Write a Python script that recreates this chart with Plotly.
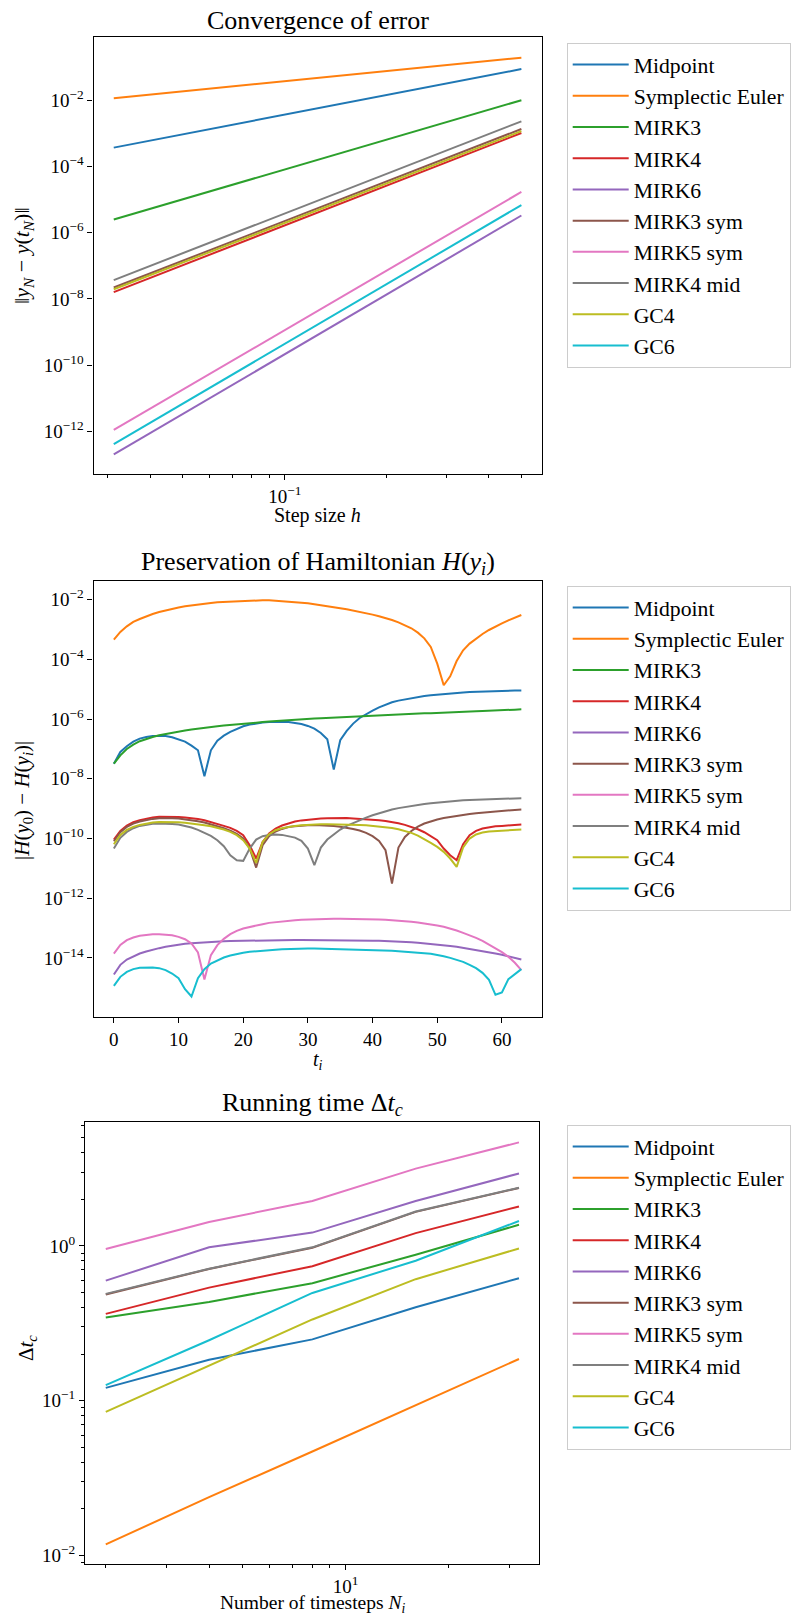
import plotly.graph_objects as go

W, H = 805, 1618
FONT = "Liberation Serif, Times New Roman, serif"

methods = ["Midpoint", "Symplectic Euler", "MIRK3", "MIRK4", "MIRK6",
           "MIRK3 sym", "MIRK5 sym", "MIRK4 mid", "GC4", "GC6"]
colors = ["#1f77b4", "#ff7f0e", "#2ca02c", "#d62728", "#9467bd",
          "#8c564b", "#e377c2", "#7f7f7f", "#bcbd22", "#17becf"]

# ---------------- Plot 1: convergence of error ----------------
step_h = [0.5, 0.25, 0.125, 0.0625, 0.03125]
err_midpoint = [0.087, 0.0225, 5.8e-3, 1.48e-3, 3.7e-4]
err_sympl_euler = [0.193, 0.096, 0.0475, 0.0235, 0.0115]
err_mirk3 = [1.0e-2, 1.27e-3, 1.6e-4, 2.0e-5, 2.5e-6]
err_mirk4 = [1.02e-3, 6.4e-5, 4.0e-6, 2.5e-7, 1.6e-8]
err_mirk6 = [3.3e-6, 5.2e-8, 8.1e-10, 1.27e-11, 2.0e-13]
err_mirk3_sym = [1.35e-3, 8.5e-5, 5.4e-6, 3.4e-7, 2.2e-8]
err_mirk5_sym = [1.7e-5, 2.7e-7, 4.3e-9, 6.8e-11, 1.1e-12]
err_mirk4_mid = [2.3e-3, 1.45e-4, 9.2e-6, 5.8e-7, 3.7e-8]
err_gc4 = [1.17e-3, 7.4e-5, 4.7e-6, 3.0e-7, 1.95e-8]
err_gc6 = [6.8e-6, 1.07e-7, 1.68e-9, 2.6e-11, 4.1e-13]

# ---------------- Plot 2: Hamiltonian preservation ----------------
t_i = list(range(64))
ham_midpoint = [
    3.2e-8, 7.9e-8, 1.23e-7, 1.76e-7, 2.22e-7, 2.52e-7, 2.69e-7, 2.72e-7, 2.69e-7, 2.46e-7,
    2.11e-7, 1.76e-7, 1.29e-7, 9.0e-8, 1.22e-8, 9.0e-8, 1.9e-7, 2.79e-7, 3.71e-7, 4.67e-7,
    5.74e-7, 6.53e-7, 7.15e-7, 7.62e-7, 7.91e-7, 8.0e-7, 8.0e-7, 7.91e-7, 7.43e-7, 6.87e-7,
    5.89e-7, 4.8e-7, 3.43e-7, 2.11e-7, 2.03e-8, 1.95e-7, 4.01e-7, 7.05e-7, 1.09e-6, 1.49e-6,
    1.92e-6, 2.48e-6, 3.05e-6, 3.65e-6, 4.15e-6, 4.6e-6, 5.1e-6, 5.51e-6, 5.95e-6, 6.27e-6,
    6.6e-6, 6.95e-6, 7.22e-6, 7.5e-6, 7.8e-6, 8.0e-6, 8.2e-6, 8.4e-6, 8.53e-6, 8.63e-6,
    8.75e-6, 8.87e-6, 8.98e-6, 9.05e-6]
ham_sympl_euler = [
    4.6e-4, 8.3e-4, 1.28e-3, 1.79e-3, 2.25e-3, 2.77e-3, 3.31e-3, 3.86e-3, 4.4e-3, 5.0e-3,
    5.5e-3, 5.98e-3, 6.46e-3, 6.98e-3, 7.35e-3, 7.73e-3, 8.14e-3, 8.36e-3, 8.8e-3, 9.0e-3,
    9.26e-3, 9.38e-3, 9.5e-3, 9.5e-3, 9.5e-3, 9.26e-3, 9.0e-3, 8.69e-3, 8.36e-3, 7.94e-3,
    7.53e-3, 7.06e-3, 6.62e-3, 6.13e-3, 5.68e-3, 5.19e-3, 4.74e-3, 4.34e-3, 3.96e-3, 3.53e-3,
    3.15e-3, 2.77e-3, 2.43e-3, 2.08e-3, 1.74e-3, 1.42e-3, 1.1e-3, 7.85e-4, 5.07e-4, 2.6e-4,
    7.2e-5, 1.36e-5, 2.71e-5, 8.8e-5, 2.01e-4, 3.37e-4, 5.07e-4, 7.08e-4, 9.64e-4, 1.28e-3,
    1.61e-3, 2.03e-3, 2.49e-3, 3.07e-3]
ham_mirk3 = [
    3.2e-8, 6.1e-8, 1.0e-7, 1.4e-7, 1.81e-7, 2.16e-7, 2.52e-7, 2.87e-7, 3.18e-7, 3.52e-7,
    3.8e-7, 4.11e-7, 4.44e-7, 4.8e-7, 5.18e-7, 5.45e-7, 5.74e-7, 6.04e-7, 6.37e-7, 6.7e-7,
    7.05e-7, 7.33e-7, 7.62e-7, 7.91e-7, 8.22e-7, 8.55e-7, 8.89e-7, 9.23e-7, 9.59e-7, 9.85e-7,
    1.01e-6, 1.04e-6, 1.06e-6, 1.09e-6, 1.12e-6, 1.15e-6, 1.18e-6, 1.21e-6, 1.24e-6, 1.27e-6,
    1.31e-6, 1.34e-6, 1.38e-6, 1.41e-6, 1.45e-6, 1.47e-6, 1.49e-6, 1.52e-6, 1.56e-6, 1.58e-6,
    1.6e-6, 1.65e-6, 1.69e-6, 1.73e-6, 1.76e-6, 1.78e-6, 1.82e-6, 1.87e-6, 1.89e-6, 1.92e-6,
    1.97e-6, 2.02e-6, 2.07e-6, 2.13e-6]
ham_mirk4 = [
    9.2e-11, 1.79e-10, 2.71e-10, 3.51e-10, 4.09e-10, 4.65e-10, 5.02e-10, 5.36e-10, 5.43e-10, 5.43e-10,
    5.28e-10, 5.08e-10, 4.83e-10, 4.53e-10, 4.09e-10, 3.6e-10, 3.08e-10, 2.64e-10, 2.26e-10, 1.79e-10,
    1.29e-10, 5.95e-11, 2.13e-11, 7.69e-11, 1.46e-10, 2.15e-10, 2.71e-10, 3.24e-10, 3.69e-10, 4.04e-10,
    4.31e-10, 4.47e-10, 4.65e-10, 4.78e-10, 4.83e-10, 4.9e-10, 4.83e-10, 4.71e-10, 4.59e-10, 4.42e-10,
    4.25e-10, 4.09e-10, 3.88e-10, 3.6e-10, 3.24e-10, 2.85e-10, 2.44e-10, 2.04e-10, 1.62e-10, 1.22e-10,
    8.75e-11, 4.6e-11, 2.75e-11, 1.87e-11, 6.43e-11, 1.29e-10, 1.79e-10, 2.15e-10, 2.41e-10, 2.55e-10,
    2.64e-10, 2.75e-10, 2.85e-10, 2.93e-10]
ham_mirk6 = [
    2.78e-15, 5.86e-15, 8.83e-15, 1.14e-14, 1.4e-14, 1.64e-14, 1.89e-14, 2.12e-14, 2.35e-14, 2.57e-14,
    2.77e-14, 2.96e-14, 3.11e-14, 3.24e-14, 3.37e-14, 3.45e-14, 3.54e-14, 3.63e-14, 3.67e-14, 3.72e-14,
    3.76e-14, 3.83e-14, 3.87e-14, 3.92e-14, 3.92e-14, 3.94e-14, 3.95e-14, 3.96e-14, 3.97e-14, 3.97e-14,
    3.97e-14, 3.97e-14, 3.97e-14, 3.96e-14, 3.96e-14, 3.95e-14, 3.94e-14, 3.92e-14, 3.87e-14, 3.83e-14,
    3.76e-14, 3.72e-14, 3.67e-14, 3.63e-14, 3.54e-14, 3.45e-14, 3.33e-14, 3.2e-14, 3.08e-14, 2.96e-14,
    2.8e-14, 2.67e-14, 2.5e-14, 2.35e-14, 2.17e-14, 2.01e-14, 1.86e-14, 1.73e-14, 1.56e-14, 1.4e-14,
    1.27e-14, 1.14e-14, 1.0e-14, 8.83e-15]
ham_mirk3_sym = [
    8.1e-11, 1.62e-10, 2.44e-10, 3.16e-10, 3.69e-10, 4.2e-10, 4.53e-10, 4.78e-10, 4.83e-10, 4.78e-10,
    4.65e-10, 4.42e-10, 4.14e-10, 3.78e-10, 3.41e-10, 3.0e-10, 2.57e-10, 2.21e-10, 1.84e-10, 1.43e-10,
    9.95e-11, 4.6e-11, 1.06e-11, 5.95e-11, 1.19e-10, 1.71e-10, 2.09e-10, 2.41e-10, 2.57e-10, 2.71e-10,
    2.78e-10, 2.82e-10, 2.78e-10, 2.71e-10, 2.61e-10, 2.48e-10, 2.32e-10, 2.09e-10, 1.84e-10, 1.54e-10,
    1.19e-10, 8.32e-11, 4.05e-11, 3.1e-12, 4.97e-11, 1.13e-10, 1.79e-10, 2.51e-10, 3.16e-10, 3.78e-10,
    4.31e-10, 4.83e-10, 5.28e-10, 5.71e-10, 6.17e-10, 6.58e-10, 7.01e-10, 7.38e-10, 7.78e-10, 8.18e-10,
    8.51e-10, 8.84e-10, 9.07e-10, 9.31e-10]
ham_mirk5_sym = [
    1.4e-14, 2.73e-14, 3.92e-14, 4.82e-14, 5.48e-14, 5.92e-14, 6.15e-14, 6.23e-14, 6.07e-14, 5.7e-14,
    5.07e-14, 4.23e-14, 3.03e-14, 1.52e-14, 1.89e-15, 1.24e-14, 2.67e-14, 4.35e-14, 6.23e-14, 8.06e-14,
    9.64e-14, 1.1e-13, 1.23e-13, 1.35e-13, 1.49e-13, 1.59e-13, 1.68e-13, 1.76e-13, 1.83e-13, 1.88e-13,
    1.93e-13, 1.96e-13, 1.98e-13, 2.01e-13, 2.03e-13, 2.03e-13, 2.03e-13, 2.03e-13, 2.01e-13, 1.98e-13,
    1.96e-13, 1.93e-13, 1.88e-13, 1.83e-13, 1.76e-13, 1.7e-13, 1.61e-13, 1.53e-13, 1.44e-13, 1.33e-13,
    1.22e-13, 1.1e-13, 9.64e-14, 8.26e-14, 6.9e-14, 5.77e-14, 4.7e-14, 3.72e-14, 2.81e-14, 2.12e-14,
    1.56e-14, 1.09e-14, 6.84e-15, 3.88e-15]
ham_mirk4_mid = [
    4.6e-11, 1.05e-10, 1.66e-10, 2.21e-10, 2.64e-10, 2.93e-10, 3.12e-10, 3.16e-10, 3.16e-10, 3.04e-10,
    2.93e-10, 2.64e-10, 2.32e-10, 1.94e-10, 1.58e-10, 1.22e-10, 8.75e-11, 5.51e-11, 2.75e-11, 1.87e-11,
    1.78e-11, 4.6e-11, 9.2e-11, 1.19e-10, 1.32e-10, 1.36e-10, 1.32e-10, 1.22e-10, 1.07e-10, 8.32e-11,
    4.6e-11, 1.27e-11, 4.97e-11, 9.2e-11, 1.39e-10, 1.99e-10, 2.64e-10, 3.33e-10, 4.09e-10, 5.02e-10,
    6.01e-10, 7.01e-10, 8.18e-10, 9.31e-10, 1.04e-9, 1.14e-9, 1.24e-9, 1.33e-9, 1.44e-9, 1.52e-9,
    1.6e-9, 1.68e-9, 1.75e-9, 1.82e-9, 1.89e-9, 1.94e-9, 1.99e-9, 2.04e-9, 2.09e-9, 2.12e-9,
    2.14e-9, 2.17e-9, 2.2e-9, 2.23e-9]
ham_gc4 = [
    6.43e-11, 1.32e-10, 1.94e-10, 2.44e-10, 2.85e-10, 3.16e-10, 3.41e-10, 3.55e-10, 3.6e-10, 3.6e-10,
    3.51e-10, 3.38e-10, 3.22e-10, 3.0e-10, 2.78e-10, 2.55e-10, 2.26e-10, 1.99e-10, 1.66e-10, 1.29e-10,
    8.75e-11, 4.6e-11, 1.52e-11, 7.69e-11, 1.39e-10, 1.89e-10, 2.21e-10, 2.44e-10, 2.64e-10, 2.78e-10,
    2.88e-10, 2.94e-10, 3.0e-10, 3.0e-10, 3.0e-10, 3.0e-10, 2.94e-10, 2.93e-10, 2.85e-10, 2.75e-10,
    2.64e-10, 2.51e-10, 2.41e-10, 2.23e-10, 2.04e-10, 1.79e-10, 1.54e-10, 1.25e-10, 9.7e-11, 7.13e-11,
    5.24e-11, 3.56e-11, 2.13e-11, 1.12e-11, 4.97e-11, 9.95e-11, 1.36e-10, 1.58e-10, 1.71e-10, 1.77e-10,
    1.84e-10, 1.89e-10, 1.94e-10, 1.99e-10]
ham_gc6 = [
    1.16e-15, 2.32e-15, 3.41e-15, 4.2e-15, 4.65e-15, 4.77e-15, 4.72e-15, 4.53e-15, 3.88e-15, 3.0e-15,
    2.1e-15, 8.97e-16, 5.1e-16, 2.1e-15, 4.2e-15, 6.48e-15, 8.39e-15, 1.03e-14, 1.2e-14, 1.37e-14,
    1.49e-14, 1.6e-14, 1.68e-14, 1.77e-14, 1.83e-14, 1.89e-14, 1.93e-14, 1.98e-14, 2.01e-14, 2.04e-14,
    2.06e-14, 2.06e-14, 2.04e-14, 2.01e-14, 1.98e-14, 1.96e-14, 1.93e-14, 1.91e-14, 1.89e-14, 1.86e-14,
    1.82e-14, 1.77e-14, 1.75e-14, 1.73e-14, 1.66e-14, 1.62e-14, 1.56e-14, 1.49e-14, 1.44e-14, 1.37e-14,
    1.27e-14, 1.14e-14, 1.0e-14, 8.83e-15, 7.38e-15, 5.86e-15, 4.53e-15, 3.16e-15, 1.84e-15, 5.8e-16,
    6.95e-16, 1.94e-15, 2.93e-15, 4.2e-15]

# ---------------- Plot 3: running time ----------------
n_steps = [2, 4, 8, 16, 32]
time_midpoint = [0.121, 0.184, 0.249, 0.402, 0.619]
time_sympl_euler = [0.0118, 0.0238, 0.047, 0.0935, 0.186]
time_mirk3 = [0.345, 0.435, 0.575, 0.877, 1.37]
time_mirk4 = [0.364, 0.538, 0.74, 1.21, 1.80]
time_mirk6 = [0.597, 0.98, 1.22, 1.95, 2.94]
time_mirk3_sym = [0.485, 0.71, 0.975, 1.66, 2.37]
time_mirk5_sym = [0.955, 1.43, 1.95, 3.16, 4.67]
time_mirk4_mid = [0.49, 0.713, 0.98, 1.67, 2.38]
time_gc4 = [0.0847, 0.168, 0.335, 0.61, 0.964]
time_gc6 = [0.126, 0.246, 0.497, 0.803, 1.45]

err_all = [err_midpoint, err_sympl_euler, err_mirk3, err_mirk4, err_mirk6,
           err_mirk3_sym, err_mirk5_sym, err_mirk4_mid, err_gc4, err_gc6]
ham_all = [ham_midpoint, ham_sympl_euler, ham_mirk3, ham_mirk4, ham_mirk6,
           ham_mirk3_sym, ham_mirk5_sym, ham_mirk4_mid, ham_gc4, ham_gc6]
time_all = [time_midpoint, time_sympl_euler, time_mirk3, time_mirk4, time_mirk6,
            time_mirk3_sym, time_mirk5_sym, time_mirk4_mid, time_gc4, time_gc6]

fig = go.Figure()
LW = 2.0
for i, name in enumerate(methods):
    fig.add_trace(go.Scatter(x=step_h, y=err_all[i], mode="lines", name=name,
                             line=dict(color=colors[i], width=LW),
                             xaxis="x", yaxis="y", legend="legend"))
for i, name in enumerate(methods):
    fig.add_trace(go.Scatter(x=t_i, y=ham_all[i], mode="lines", name=name,
                             line=dict(color=colors[i], width=LW),
                             xaxis="x2", yaxis="y2", legend="legend2"))
for i, name in enumerate(methods):
    fig.add_trace(go.Scatter(x=n_steps, y=time_all[i], mode="lines", name=name,
                             line=dict(color=colors[i], width=LW),
                             xaxis="x3", yaxis="y3", legend="legend3"))


def px_x(v):
    return v / W


def px_y(v):
    return 1 - v / H


def sup(e):
    return "10<sup>" + ("\u2212" + str(-e) if e < 0 else str(e)) + "</sup>"


TICKFONT = dict(family=FONT, size=19, color="black")


def axis(domain, anchor, rng, typ, tickvals, ticktext, minor_vals=None):
    d = dict(domain=domain, anchor=anchor, range=rng, type=typ,
             showline=True, mirror=True, linecolor="black", linewidth=1.3,
             ticks="outside", ticklen=5, tickwidth=1.1, tickcolor="black",
             tickmode="array", tickvals=tickvals, ticktext=ticktext,
             tickfont=TICKFONT, showgrid=False, zeroline=False)
    if minor_vals:
        d["minor"] = dict(tickmode="array", tickvals=minor_vals, ticks="outside",
                          ticklen=3, tickwidth=0.9, tickcolor="black", showgrid=False)
    return d


x1_dom = [px_x(93.5), px_x(541.7)]
y1_dom = [px_y(473.7), px_y(37.3)]
x2_dom = [px_x(93.5), px_x(541.7)]
y2_dom = [px_y(1016.7), px_y(581)]
x3_dom = [px_x(85), px_x(539)]
y3_dom = [px_y(1564), px_y(1122.3)]

legend_style = dict(xanchor="left", yanchor="top", bgcolor="white",
                    bordercolor="#cccccc", borderwidth=1,
                    font=dict(family=FONT, size=21.7, color="black"),
                    itemwidth=56, tracegroupgap=0)

exp1 = [-2, -4, -6, -8, -10, -12]
exp2 = [-2, -4, -6, -8, -10, -12, -14]
exp3 = [-2, -1, 0]

fig.update_layout(
    width=W, height=H, margin=dict(l=0, r=0, t=0, b=0, autoexpand=False),
    paper_bgcolor="white", plot_bgcolor="white",
    font=dict(family=FONT, color="black"),
    xaxis=axis(x1_dom, "y", [-1.565, -0.241], "log", [0.1], [sup(-1)],
               [0.03, 0.04, 0.05, 0.06, 0.07, 0.08, 0.09, 0.2, 0.3, 0.4, 0.5]),
    yaxis=axis(y1_dom, "x", [-13.28, -0.10], "log", [10.0 ** e for e in exp1],
               [sup(e) for e in exp1]),
    xaxis2=axis(x2_dom, "y2", [-3.15, 66.15], "linear", [0, 10, 20, 30, 40, 50, 60],
                ["0", "10", "20", "30", "40", "50", "60"]),
    yaxis2=axis(y2_dom, "x2", [-15.97, -1.375], "log", [10.0 ** e for e in exp2],
                [sup(e) for e in exp2]),
    xaxis3=axis(x3_dom, "y3", [0.2405, 1.5635], "log", [10], [sup(1)],
                [2, 3, 4, 5, 6, 7, 8, 9, 20, 30]),
    yaxis3=axis(y3_dom, "x3", [-2.055, 0.799], "log", [10.0 ** e for e in exp3],
                [sup(e) for e in exp3],
                [m * 10.0 ** e for e in (-3, -2, -1, 0) for m in range(2, 10)
                 if 10 ** -2.055 < m * 10.0 ** e < 10 ** 0.799]),
    legend=dict(x=px_x(566.7), y=px_y(43), **legend_style),
    legend2=dict(x=px_x(566.7), y=px_y(586), **legend_style),
    legend3=dict(x=px_x(566.7), y=px_y(1125), **legend_style),
    showlegend=True,
)

annotations = [
    # titles
    dict(text="Convergence of error", x=px_x(317.6), y=px_y(21), size=26),
    dict(text="Preservation of Hamiltonian <i>H</i>(<i>y<sub>i</sub></i>)",
         x=px_x(317.6), y=px_y(563), size=26),
    dict(text="Running time \u0394<i>t<sub>c</sub></i>", x=px_x(312), y=px_y(1104), size=26),
    # x labels
    dict(text="Step size <i>h</i>", x=px_x(317.6), y=px_y(516), size=20),
    dict(text="<i>t<sub>i</sub></i>", x=px_x(317.6), y=px_y(1060), size=20),
    dict(text="Number of timesteps <i>N<sub>i</sub></i>", x=px_x(312), y=px_y(1604), size=19.5),
    # y labels
    dict(text="\u2016<i>y<sub>N</sub></i> \u2212 <i>y</i>(<i>t<sub>N</sub></i>)\u2016",
         x=px_x(23), y=px_y(256), size=22, angle=-90),
    dict(text="|<i>H</i>(<i>y</i><sub>0</sub>) \u2212 <i>H</i>(<i>y<sub>i</sub></i>)|",
         x=px_x(23), y=px_y(801), size=21, angle=-90),
    dict(text="\u0394<i>t<sub>c</sub></i>", x=px_x(27), y=px_y(1348), size=21, angle=-90),
]
for a in annotations:
    fig.add_annotation(text=a["text"], x=a["x"], y=a["y"], xref="paper", yref="paper",
                       xanchor="center", yanchor="middle", showarrow=False,
                       textangle=a.get("angle", 0),
                       font=dict(family=FONT, size=a["size"], color="black"))

fig.write_html("out.html")
